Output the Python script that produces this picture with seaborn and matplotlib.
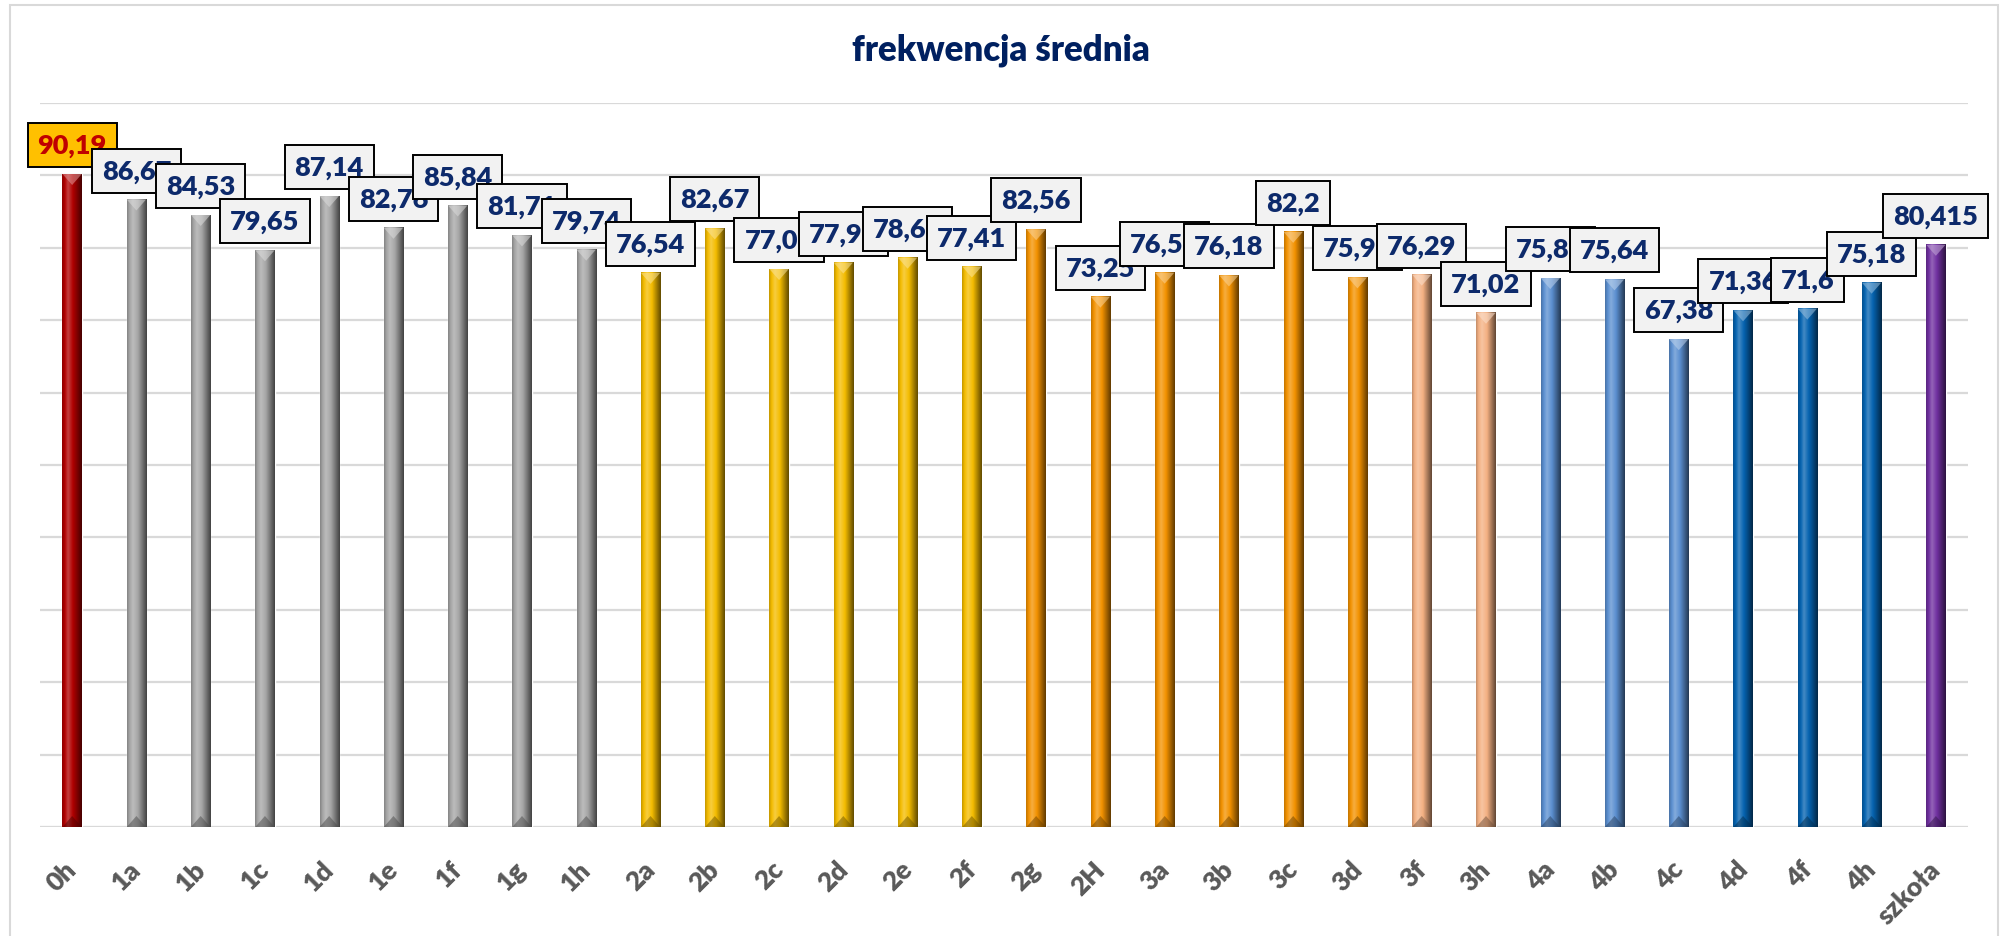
import numpy as np
import pandas as pd
import matplotlib
matplotlib.use("Agg")
import matplotlib.pyplot as plt
import matplotlib.colors as mcolors
import matplotlib.transforms as mtransforms
from matplotlib.patches import Polygon, Rectangle
import seaborn as sns

# data
classes = ["0h", "1a", "1b", "1c", "1d", "1e", "1f", "1g", "1h",
           "2a", "2b", "2c", "2d", "2e", "2f", "2g", "2H",
           "3a", "3b", "3c", "3d", "3f", "3h",
           "4a", "4b", "4c", "4d", "4f", "4h", "szkoła"]
attendance = [90.19, 86.67, 84.53, 79.65, 87.14, 82.76, 85.84, 81.71, 79.74,
              76.54, 82.67, 77.06, 77.96, 78.63, 77.41, 82.56, 73.25,
              76.56, 76.18, 82.2, 75.91, 76.29, 71.02,
              75.82, 75.64, 67.38, 71.36, 71.6, 75.18, 80.415]
groups = ["0"] + ["1"] * 8 + ["2"] * 6 + ["2g"] * 6 + ["3fh"] * 2 + ["4l"] * 3 + ["4d"] * 3 + ["s"]
group_colors = {"0": "#B00000", "1": "#A6A6A6", "2": "#F4BC00", "2g": "#F39200",
                "3fh": "#F4B183", "4l": "#5B8FD0", "4d": "#0563B0", "s": "#7030A0"}

df = pd.DataFrame({"klasa": classes, "frekwencja": attendance, "grupa": groups})
bar_colors = [group_colors[g] for g in groups]

sns.set_theme(style="white")
plt.rcParams["font.family"] = ["Lato", "DejaVu Sans"]

DPI = 100
fig = plt.figure(figsize=(20.02, 9.37), dpi=DPI)
ax = fig.add_axes([40 / 2002, 1 - 828 / 937, 1928 / 2002, 724 / 937])

sns.barplot(data=df, x="klasa", y="frekwencja", hue="klasa",
            palette=dict(zip(classes, bar_colors)), legend=False,
            width=0.3, ax=ax, zorder=3, saturation=1)

ax.set_ylim(0, 100)
ax.set_xlim(-0.5, len(classes) - 0.5)
ax.set_yticks(np.arange(0, 101, 10))
ax.set_yticklabels([])
ax.tick_params(axis="y", length=0)
ax.grid(axis="y", color="#D9D9D9", linewidth=1.6, zorder=0)
ax.set_axisbelow(True)
for s in ax.spines.values():
    s.set_visible(False)
ax.set_xlabel("")
ax.set_ylabel("")


def shade_strip(color):
    base = np.array(mcolors.to_rgb(color))
    t = np.linspace(0, 1, 64)
    f = np.interp(t, [0, 0.3, 0.55, 1], [0.8, 1.25, 1.0, 0.4])
    rows = [base + (1 - base) * (k - 1) if k >= 1 else base * k for k in f]
    return np.clip(np.array(rows)[None, :, :], 0, 1)


px_per_unit = 724 / 100
patches = [p for c in ax.containers for p in c]
for p in patches:
    x0, y0 = p.get_x(), p.get_y()
    w, h = p.get_width(), p.get_height()
    if h <= 0:
        continue
    col = p.get_facecolor()
    ax.imshow(shade_strip(col), extent=(x0, x0 + w, y0, y0 + h), aspect="auto",
              clip_path=p, zorder=3.1, interpolation="bilinear")
    dy = 11 / px_per_unit
    light = np.clip(np.array(mcolors.to_rgb(col)) * 0.4 + 0.6, 0, 1)
    ax.add_patch(Polygon([(x0, y0 + h), (x0 + w, y0 + h), (x0 + w / 2, y0 + h - dy)],
                         closed=True, facecolor=light, alpha=0.55, edgecolor="none", zorder=3.2))
    dark = np.array(mcolors.to_rgb(col)) * 0.45
    ax.add_patch(Polygon([(x0, y0), (x0 + w, y0), (x0 + w / 2, y0 + dy)],
                         closed=True, facecolor=dark, alpha=0.5, edgecolor="none", zorder=3.2))

ax.set_ylim(0, 100)
ax.set_xlim(-0.5, len(classes) - 0.5)
ax.axhline(0, color="#D9D9D9", linewidth=2.2, zorder=2)

# data labels in boxes (box ~44 px tall, bottom ~7 px above the bar)
LABEL_FS = 19.5
BOX_H = 44
labels = []
for i, (name, v) in enumerate(zip(classes, attendance)):
    txt = f"{v:g}".replace(".", ",")
    first = i == 0
    ann = ax.annotate(txt, xy=(i, v), xytext=(0, (7 + BOX_H / 2) * 72 / DPI),
                      textcoords="offset points", ha="center", va="center",
                      fontsize=LABEL_FS, fontweight="heavy",
                      color="#C00000" if first else "#0D2A6B", zorder=10 + i,
                      bbox=dict(boxstyle="square,pad=0.3",
                                facecolor="#FFC000" if first else "#F2F2F2",
                                edgecolor="black", linewidth=1.4))
    labels.append(ann)

fig.canvas.draw()
renderer = fig.canvas.get_renderer()
for ann in labels:
    th = ann.get_window_extent(renderer).height
    pad_px = max((BOX_H - th) / 2, 2)
    ann.get_bbox_patch().set_boxstyle("square", pad=pad_px / (LABEL_FS * DPI / 72))

# rotated category labels
ax.tick_params(axis="x", length=0, pad=21, labelsize=19, labelcolor="#595959")
offset = mtransforms.ScaledTranslation(9 / 100, 0, fig.dpi_scale_trans)
for lab in ax.get_xticklabels():
    lab.set_rotation(45)
    lab.set_ha("right")
    lab.set_fontweight("heavy")
    lab.set_transform(lab.get_transform() + offset)

fig.text(0.5, 1 - 50 / 937, "frekwencja średnia", ha="center", va="center",
         fontsize=25, fontweight="heavy", color="#002060")

fig.patches.append(Rectangle((10 / 2002, -0.1), 1988 / 2002, 1.1 - 6 / 937,
                             transform=fig.transFigure, fill=False,
                             edgecolor="#D9D9D9", linewidth=1.5))

fig.savefig("out.png", dpi=DPI)
